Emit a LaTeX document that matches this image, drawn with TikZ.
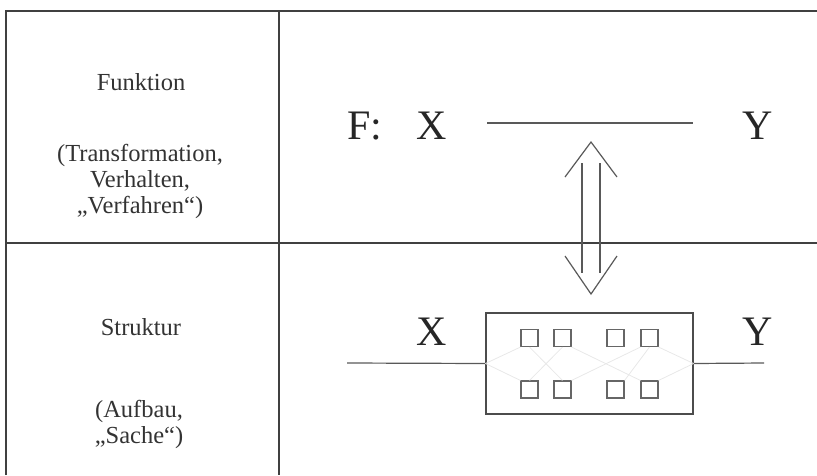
\documentclass[tikz,border=0pt]{standalone}
\usepackage{fontspec}
\setmainfont{Liberation Serif}
\begin{document}
\begin{tikzpicture}[x=1pt,y=-1pt,
  rule/.style={draw=black!75,line width=1.3pt},
  ln/.style={draw=black!65,line width=1.2pt},
  faint/.style={draw=black!9,line width=0.8pt},
  sq/.style={draw=black!60,line width=1.1pt,minimum size=17pt,inner sep=0pt},
  lbl/.style={text=black!80,font=\fontsize{24.5}{26}\selectfont,align=center,inner sep=0pt},
  big/.style={text=black!85,font=\fontsize{42}{44}\selectfont,inner sep=0pt}]
\useasboundingbox (0,0) rectangle (817,475);
% table frame
\coordinate (tl) at (6,11);
\coordinate (bl) at (6,475);
\coordinate (tr) at (817,11);
\coordinate (ml) at (6,243);
\coordinate (mr) at (817,243);
\coordinate (vt) at (279,11);
\coordinate (vb) at (279,475);
\draw[rule] (bl) -- (tl) -- (tr);
\draw[rule] (ml) -- (mr);
\draw[rule] (vt) -- (vb);
% left column text
\node[lbl] (funk) at (141,82) {Funktion};
\node[lbl] (trans) at (140,181) {(Transformation,\\Verhalten,\\„Verfahren“)};
\node[lbl] (strk) at (141,327) {Struktur};
\node[lbl] (aufb) at (139,424) {(Aufbau,\\„Sache“)};
% top right: function
\node[big] (F) at (365,126) {F:};
\node[big] (X1) at (432,126) {X};
\node[big] (Y1) at (758,126) {Y};
\coordinate (f1) at (487,123);
\coordinate (f2) at (693,123);
\draw[ln] (f1) -- (f2);
% double arrow
\coordinate (a1t) at (582,163);
\coordinate (a1b) at (582,273);
\coordinate (a2t) at (600,163);
\coordinate (a2b) at (600,273);
\coordinate (upA) at (591,142);
\coordinate (upL) at (565,177);
\coordinate (upR) at (617,177);
\coordinate (dnA) at (591,294);
\coordinate (dnL) at (565,256);
\coordinate (dnR) at (617,256);
\draw[ln] (a1t) -- (a1b);
\draw[ln] (a2t) -- (a2b);
\draw[ln] (upL) -- (upA) -- (upR);
\draw[ln] (dnL) -- (dnA) -- (dnR);
% bottom right: structure
\node[big] (X2) at (432,332) {X};
\node[big] (Y2) at (758,332) {Y};
\node[draw=black!70,line width=1.2pt,minimum width=207pt,minimum height=101pt,inner sep=0pt] (box) at (589.5,363.5) {};
\coordinate (inL) at (347,363);
\coordinate (outR) at (764,363);
\draw[ln] (inL) -- (box.west);
\draw[ln] (box.east) -- (outR);
% inner squares
\node[sq] (t1) at (529.5,338) {};
\node[sq] (t2) at (562.5,338) {};
\node[sq] (t3) at (615.5,338) {};
\node[sq] (t4) at (649.5,338) {};
\node[sq] (b1) at (529.5,389.5) {};
\node[sq] (b2) at (562.5,389.5) {};
\node[sq] (b3) at (615.5,389.5) {};
\node[sq] (b4) at (649.5,389.5) {};
% faint network
\draw[faint] (box.west) -- (t1.south west);
\draw[faint] (box.west) -- (b1.north west);
\draw[faint] (t1.south) -- (b2.north);
\draw[faint] (b1.north) -- (t2.south);
\draw[faint] (t2.south east) -- (b4.north west);
\draw[faint] (b2.north east) -- (t4.south west);
\draw[faint] (t4.south) -- (b3.north east);
\draw[faint] (t4.south east) -- (box.east);
\draw[faint] (b4.north east) -- (box.east);
\end{tikzpicture}
\end{document}
